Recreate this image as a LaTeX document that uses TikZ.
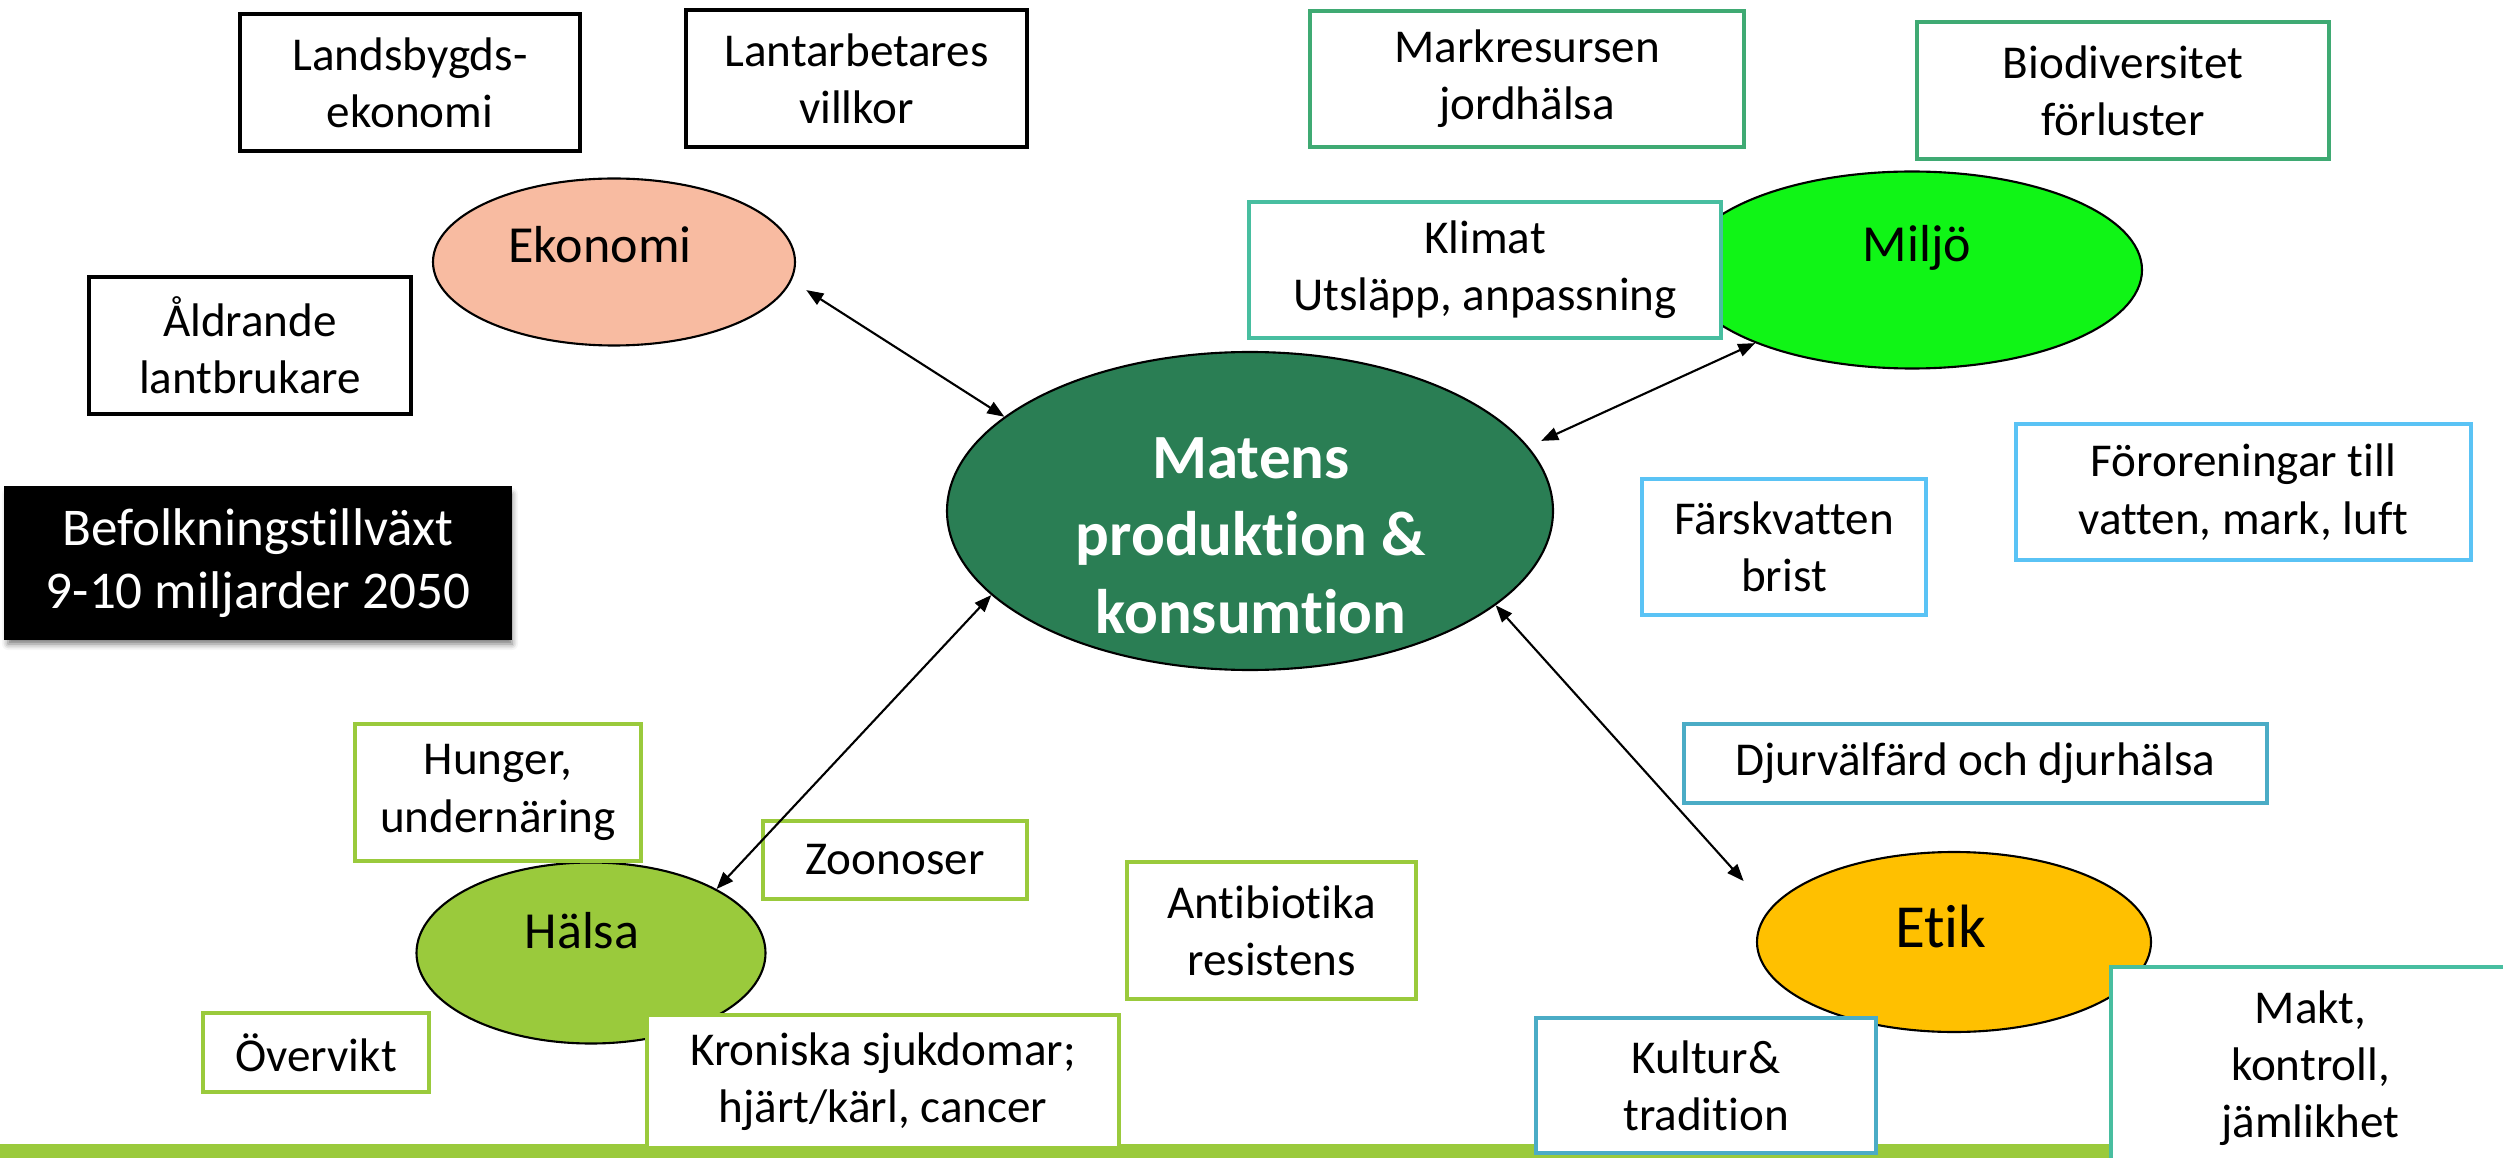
\documentclass[tikz,border=0pt]{standalone}
\usepackage{fontspec}
\setmainfont{Carlito}[Ligatures=NoCommon]
\usetikzlibrary{shapes.geometric,arrows.meta,shadows.blur}

\definecolor{ekofill}{RGB}{248,187,161}
\definecolor{miljofill}{RGB}{16,245,22}
\definecolor{matfill}{RGB}{42,126,84}
\definecolor{halsafill}{RGB}{154,202,60}
\definecolor{etikfill}{RGB}{255,192,0}
\definecolor{markline}{RGB}{63,170,115}
\definecolor{tealline}{RGB}{72,190,160}
\definecolor{skyline}{RGB}{90,195,245}
\definecolor{steelline}{RGB}{75,172,198}
\definecolor{leafline}{RGB}{154,202,60}

\newcommand\bxfont{\fontsize{13.4pt}{16.3pt}\selectfont}
\newcommand\elfont{\fontsize{14.8pt}{17pt}\selectfont}
\newcommand\etikfont{\fontsize{17.4pt}{20pt}\selectfont}
\newcommand\matfont{\fontsize{17.9pt}{21.9pt}\selectfont\bfseries}
\newcommand\befont{\fontsize{15.1pt}{17.9pt}\selectfont}

\begin{document}
\begin{tikzpicture}[x=0.01cm,y=-0.01cm,
  box/.style={draw, fill=white, line width=0.9pt, inner sep=0pt, align=center, font=\bxfont, text=black},
  sz/.style 2 args={minimum width=#1*0.01cm, minimum height=#2*0.01cm},
  topic/.style={ellipse, draw=black, line width=0.6pt, inner sep=0pt},
  toplabel/.style={anchor=base, font=\elfont, text=black},
  link/.style={{Triangle[length=0.17cm,width=0.13cm]}-{Triangle[length=0.17cm,width=0.13cm]}, line width=0.6pt}
]
\useasboundingbox (0,0) rectangle (2503,1158);

% green strip along the bottom
\fill[halsafill] (0,1144) rectangle (2503,1158);

% topic ellipses
\node[topic, fill=ekofill, sz={362}{167}] (ekonomi) at (614,262) {};
\node[topic, fill=miljofill, sz={460}{197}] (miljo) at (1912,270) {};
\node[topic, fill=matfill, sz={606}{318}] (matens) at (1250,511) {};
\node[topic, fill=halsafill, sz={349}{181}] (halsa) at (591,953) {};
\node[topic, fill=etikfill, sz={394}{180}] (etik) at (1954,942) {};

% economy
\node[box, draw=black, sz={340}{137}] (landsb) at (410,82.5) {Landsbygds-\\ekonomi};
\node[box, draw=black, sz={341}{137}] (lantarb) at (856.5,78.5) {Lantarbetares\\villkor};
\node[box, draw=black, sz={322}{137}] (aldrande) at (250,345.5) {Åldrande\\lantbrukare};

% population
\node[box, draw=black, fill=black, text=white, font=\befont, sz={504}{150},
  blur shadow={shadow xshift=0.02cm, shadow yshift=-0.06cm, shadow blur radius=0.06cm, shadow opacity=55}]
  (befolk) at (258,563) {Befolkningstillväxt\\9-10 miljarder 2050};

% environment
\node[box, draw=markline, sz={434}{136}] (markres) at (1527,79) {Markresursen\\jordhälsa};
\node[box, draw=markline, sz={412}{137}] (biodiv) at (2123,90.5) {Biodiversitet\\förluster};
\node[box, draw=tealline, sz={472}{136}] (klimat) at (1485,270) {Klimat\\Utsläpp, anpassning};
\node[box, draw=skyline, sz={284}{136}] (farsk) at (1784,547) {Färskvatten\\brist};
\node[box, draw=skyline, sz={455}{136}] (fororen) at (2243.5,492) {Föroreningar till\\vatten, mark, luft};

% ethics
\node[box, draw=steelline, sz={583}{79}] (djur) at (1975.5,763.5) {Djurvälfärd och djurhälsa};
\node[box, draw=steelline, sz={340}{135}] (kultur) at (1706,1085.5) {Kultur\&\\tradition};
\node[box, draw=tealline, sz={399}{202}] (makt) at (2310.5,1068) {Makt,\\kontroll,\\jämlikhet};

% health
\node[box, draw=leafline, sz={286}{137}] (hunger) at (498,792.5) {Hunger,\\undernäring};
\node[box, draw=leafline, sz={264}{78}] (zoonoser) at (895,860) {Zoonoser};
\node[box, draw=leafline, sz={289}{137}] (antibio) at (1271.5,930.5) {Antibiotika\\resistens};
\node[box, draw=leafline, sz={226}{79}] (overvikt) at (316,1052.5) {Övervikt};
\node[box, draw=leafline, sz={472}{133}] (kroniska) at (883,1081.5) {Kroniska sjukdomar;\\hjärt/kärl, cancer};

% ellipse labels
\node[toplabel] (ekonomiT) at (600,263) {Ekonomi};
\node[toplabel] (miljoT) at (1917,262) {Miljö};
\node[toplabel] (halsaT) at (582,948) {Hälsa};
\node[toplabel, font=\etikfont] (etikT) at (1941,947) {Etik};
\node[anchor=base, font=\matfont, text=white, align=center] (matensT) at (1251,633)
  {Matens\\produktion \&\\konsumtion};

% links between the centre and the four themes
\draw[link, shorten <=0.175cm] (ekonomi.-6.8) -- (matens.159.3);
\draw[link, shorten <=0.14cm] (matens.13.9) -- (miljo.-155.7);
\draw[link] (matens.198.5) -- (halsa.27.5);
\draw[link, shorten >=0.38cm] (matens.-21.6) -- (etik.170.2);
\end{tikzpicture}
\end{document}
